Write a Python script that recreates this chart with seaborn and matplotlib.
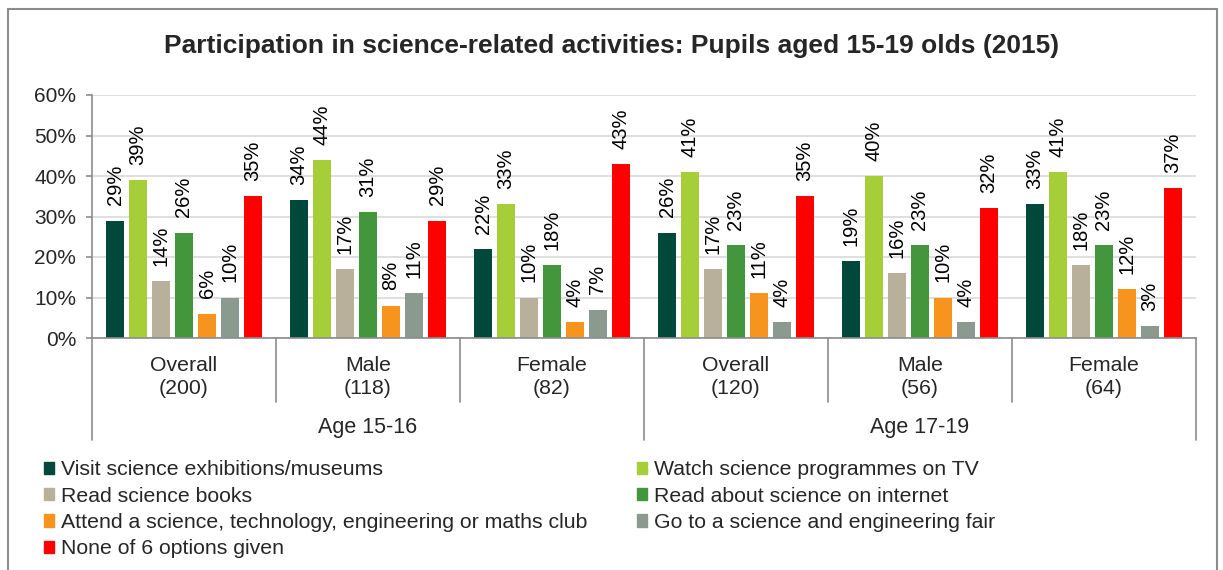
import numpy as np
import pandas as pd
import matplotlib
matplotlib.use("Agg")
import matplotlib.pyplot as plt
import matplotlib.patches as mpatches
import matplotlib.transforms as mtransforms
import seaborn as sns

# данные (проценты)
groups = ["Overall\n(200)", "Male\n(118)", "Female\n(82)",
          "Overall\n(120)", "Male\n(56)", "Female\n(64)"]
age_groups = ["Age 15-16", "Age 17-19"]
activities = [
    "Visit science exhibitions/museums",
    "Watch science programmes on TV",
    "Read science books",
    "Read about science on internet",
    "Attend a science, technology, engineering or maths club",
    "Go to a science and engineering fair",
    "None of 6 options given",
]
visit = [29, 34, 22, 26, 19, 33]
watch_tv = [39, 44, 33, 41, 40, 41]
read_books = [14, 17, 10, 17, 16, 18]
read_internet = [26, 31, 18, 23, 23, 23]
attend_club = [6, 8, 4, 11, 10, 12]
science_fair = [10, 11, 7, 4, 4, 3]
none_given = [35, 29, 43, 35, 32, 37]

colors = ["#00483a", "#a6ce39", "#b8b09a", "#43963c", "#f7941d", "#8b9a8f", "#ff0000"]

series = [visit, watch_tv, read_books, read_internet, attend_club, science_fair, none_given]
df = pd.DataFrame({
    "group": np.tile(np.arange(len(groups)), len(activities)),
    "activity": np.repeat(activities, len(groups)),
    "value": np.concatenate(series),
})

sns.set_theme(style="white")
plt.rcParams["font.family"] = ["Liberation Sans", "DejaVu Sans"]

W, H = 1223, 570
fig = plt.figure(figsize=(W / 100, H / 100), dpi=100)
ax = fig.add_axes([92 / W, 1 - 338 / H, (1196 - 92) / W, (338 - 95) / H])

sns.barplot(data=df, x="group", y="value", hue="activity", hue_order=activities,
            palette=colors, width=0.875, gap=0.22, ax=ax, legend=False,
            saturation=1, linewidth=0)

# подписи над столбцами
for cont, vals in zip(ax.containers, series):
    ax.bar_label(cont, labels=[f"{v}%" for v in vals], rotation=90,
                 padding=11, fontsize=14.5, color="black")

ax.set_ylim(0, 60)
ax.set_xlim(-0.5, len(groups) - 0.5)
ax.set_yticks(range(0, 61, 10))
ax.set_yticklabels([f"{t}%" for t in range(0, 61, 10)], fontsize=15)
ax.set_xticks([])
ax.set_xlabel("")
ax.set_ylabel("")
ax.yaxis.grid(True, color="#d9d9d9", linewidth=1.2)
ax.set_axisbelow(True)
for side in ["top", "right"]:
    ax.spines[side].set_visible(False)
ax.spines["left"].set_color("#8c8c8c")
ax.spines["bottom"].set_color("#8c8c8c")
ax.spines["left"].set_linewidth(1.2)
ax.spines["bottom"].set_linewidth(1.2)
ax.tick_params(axis="y", left=True, length=4.5, color="#8c8c8c", width=1.2, pad=7)

# двухуровневые подписи оси X
trans = mtransforms.blended_transform_factory(ax.transData, ax.transAxes)
y_short = -(402 - 338) / 243
y_long = -(440 - 338) / 243
for i in range(len(groups) + 1):
    x = i - 0.5
    y_end = y_long if i % 3 == 0 else y_short
    ax.plot([x, x], [0, y_end], transform=trans, color="#8c8c8c",
            linewidth=1.2, clip_on=False)
for i, g in enumerate(groups):
    ax.text(i, -(377 - 338) / 243, g, transform=trans, ha="center", va="center",
            fontsize=15.3, linespacing=1.3)
for j, a in enumerate(age_groups):
    ax.text(3 * j + 1, -(428 - 338) / 243, a, transform=trans, ha="center",
            va="center", fontsize=15.5)

fig.text(0.5, 1 - 46 / H, "Participation in science-related activities: Pupils aged 15-19 olds (2015)",
         ha="center", va="center", fontsize=19, fontweight="bold")

# легенда: порядок по строкам
handles = [mpatches.Patch(color=c, label=a) for c, a in zip(colors, activities)]
order = [0, 2, 4, 6, 1, 3, 5]
fig.legend([handles[k] for k in order], [activities[k] for k in order],
           loc="upper left", bbox_to_anchor=(25 / W, 1 - 441 / H), ncol=2,
           frameon=False, fontsize=15.3, handlelength=0.45, handleheight=0.5,
           handletextpad=0.35, labelspacing=0.35, columnspacing=2.35)

# рамка вокруг диаграммы
fig.patches.append(mpatches.Rectangle((8 / W, -0.05), (1217 - 8) / W, 1.05 - 9 / H,
                                      transform=fig.transFigure, fill=False,
                                      edgecolor="#8c8c8c", linewidth=1.5))

fig.savefig("out.png", dpi=100)
